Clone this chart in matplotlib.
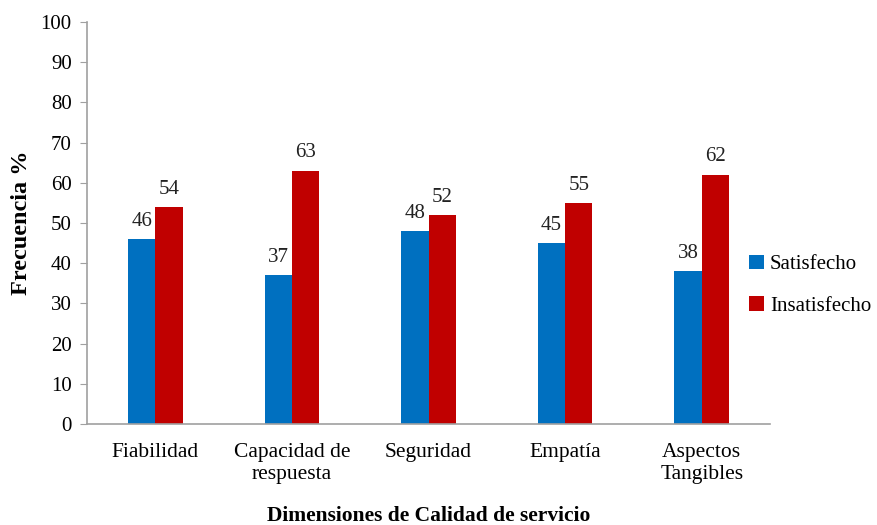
import numpy as np
import matplotlib
matplotlib.use("Agg")
import matplotlib.pyplot as plt

plt.rcParams['font.family'] = ['Liberation Serif', 'DejaVu Serif']

categorias = ['Fiabilidad', 'Capacidad de\nrespuesta', 'Seguridad', 'Empatía', 'Aspectos\nTangibles']
satisfecho = [46, 37, 48, 45, 38]
insatisfecho = [54, 63, 52, 55, 62]

azul = '#0070C0'
rojo = '#C00000'

fig = plt.figure(figsize=(8.77, 5.25), dpi=100)
ax = fig.add_axes([0.0992, 0.1924, 0.7788, 0.7656])

x = np.arange(len(categorias))
ancho = 0.2
b1 = ax.bar(x - ancho / 2, satisfecho, ancho, color=azul, label='Satisfecho')
b2 = ax.bar(x + ancho / 2, insatisfecho, ancho, color=rojo, label='Insatisfecho')

for barras in (b1, b2):
    for b in barras:
        ax.annotate(f'{b.get_height():.0f}', (b.get_x() + b.get_width() / 2, b.get_height()),
                    xytext=(0, 6), textcoords='offset points', ha='center', va='bottom',
                    fontsize=15, color='#222222')

ax.set_xlim(-0.5, len(categorias) - 0.5)
ax.set_ylim(0, 100)
ax.set_yticks(range(0, 101, 10))
ax.set_xticks(x)
ax.set_xticklabels(categorias, fontsize=15.5, linespacing=1.15)
ax.tick_params(axis='y', labelsize=15, length=5, color='#A0A0A0', pad=6)
ax.tick_params(axis='x', length=0, pad=14)

for lado in ('top', 'right'):
    ax.spines[lado].set_visible(False)
for lado in ('left', 'bottom'):
    ax.spines[lado].set_color('#A0A0A0')
    ax.spines[lado].set_linewidth(1.2)

ax.set_ylabel('Frecuencia %', fontsize=17.5, fontweight='bold', labelpad=6)
ax.set_xlabel('Dimensiones de Calidad de servicio', fontsize=15.5, fontweight='bold', labelpad=16)

fig.legend(loc='center left', bbox_to_anchor=(0.833, 0.457), frameon=False, fontsize=15,
           handlelength=0.7, handleheight=0.7, handletextpad=0.3, labelspacing=1.05)

fig.savefig('out.png', dpi=100)
